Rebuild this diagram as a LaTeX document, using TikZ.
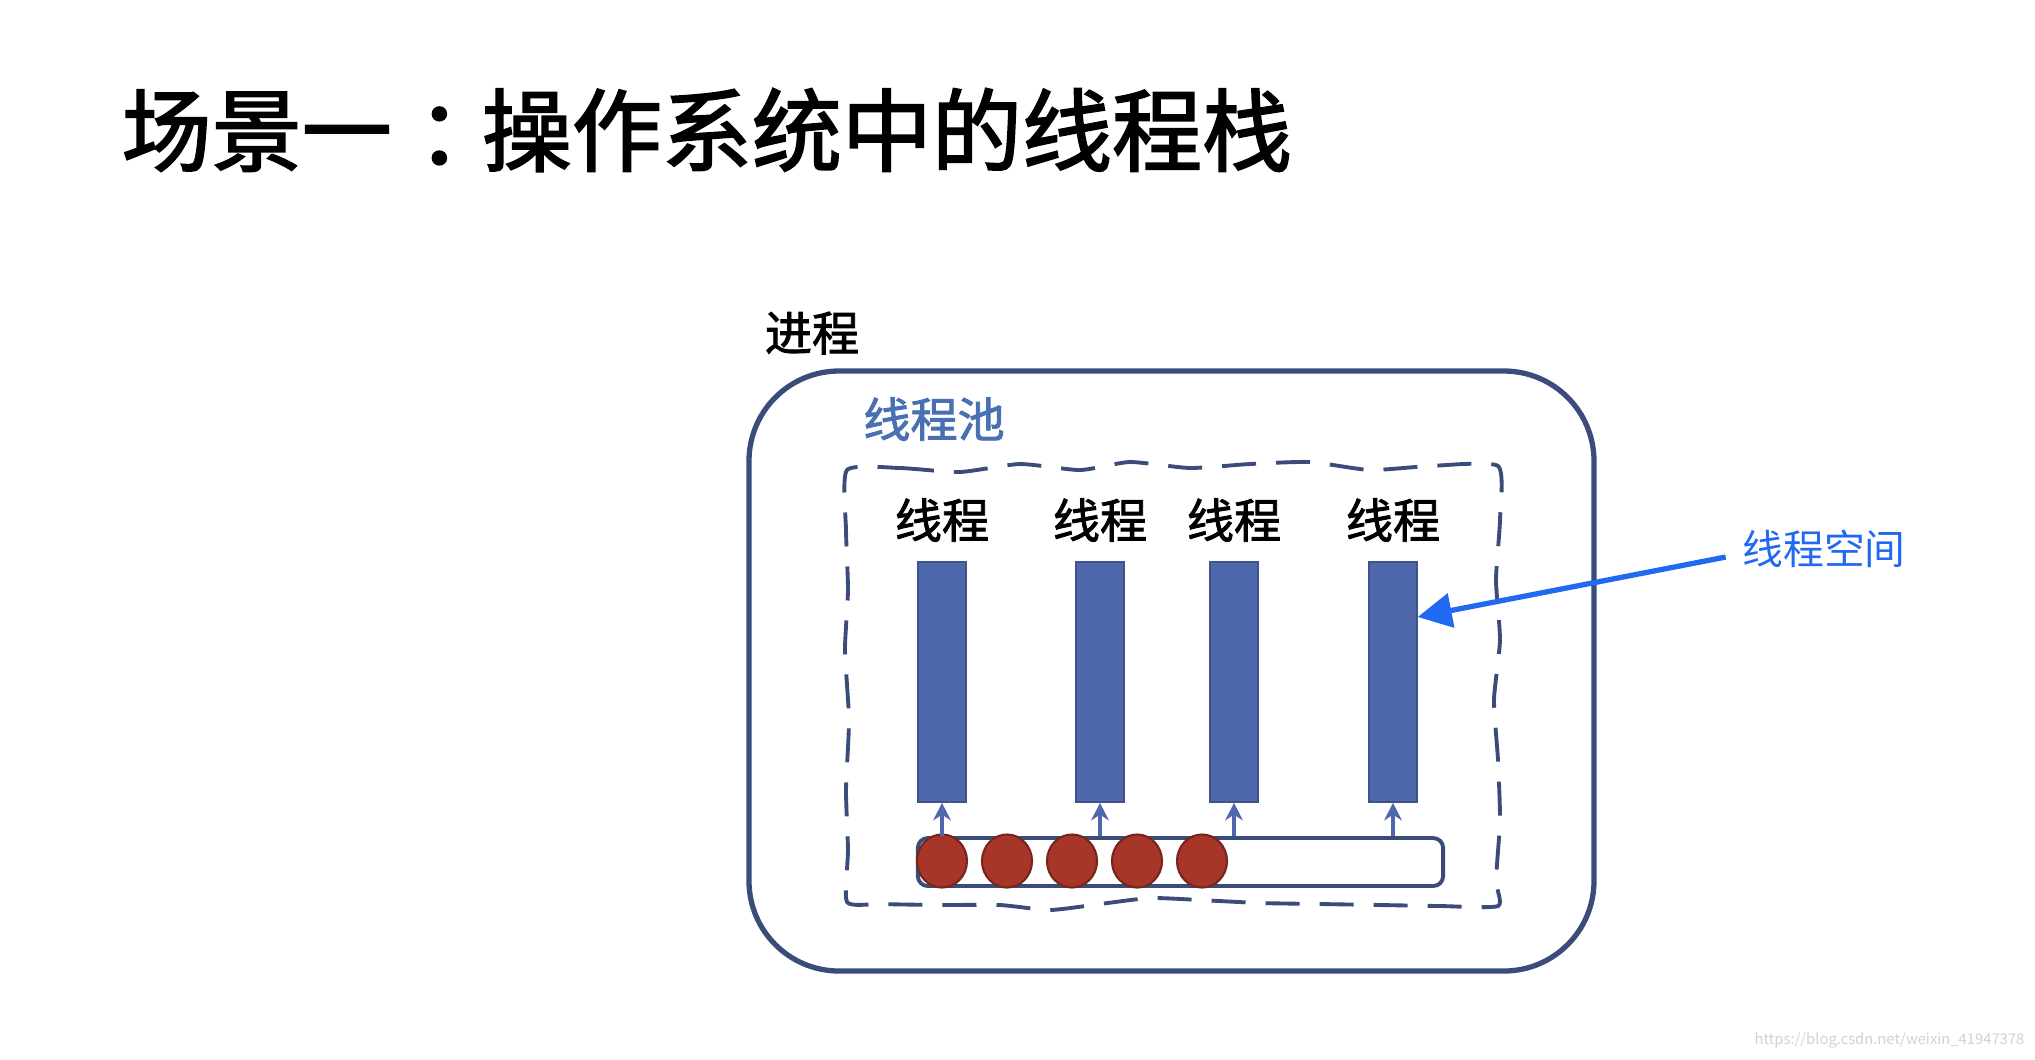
\documentclass[tikz,border=0pt]{standalone}
\usepackage{fontspec}
\setmainfont{Noto Sans CJK SC}
\newfontfamily\titlefont[FakeBold=2]{Noto Sans CJK SC}
\newfontfamily\lblfont[FakeBold=1.8]{Noto Sans CJK SC}
\usepackage{tikz}
\usetikzlibrary{arrows.meta,calc,positioning,shapes.geometric}
\definecolor{navy}{RGB}{59,76,122}
\definecolor{barblue}{RGB}{79,104,171}
\definecolor{ballred}{RGB}{168,54,40}
\definecolor{poolblue}{RGB}{72,112,178}
\definecolor{callblue}{RGB}{33,105,240}

\begin{document}
\begin{tikzpicture}[x=0.01cm,y=-0.01cm,
  lbl/.style={inner sep=0pt,font=\lblfont\fontsize{13.4pt}{14pt}\selectfont},
  bar/.style={fill=barblue,draw=barblue!80!black,line width=0.4pt,minimum width=0.48cm,minimum height=2.4cm,inner sep=0pt},
  ball/.style={ellipse,fill=ballred,draw=ballred!70!black,line width=0.6pt,minimum width=0.5cm,minimum height=0.53cm,inner sep=0pt},
  feed/.style={-{Stealth[length=5pt,width=5pt]},barblue,line width=1.3pt}]
  \useasboundingbox (0,0) rectangle (2035,1059);
  \node[inner sep=0pt,anchor=west,font=\titlefont\fontsize{25.6pt}{28pt}\selectfont] (title) at (121,130) {场景一\kern0.28em：\kern-0.28em操作系统中的线程栈};
  % process box
  \node[lbl] (proc) at (812,333) {进程};
  \draw[navy,line width=1.5pt,rounded corners=0.9cm] (749,371) rectangle (1594,971);
  \node[lbl,text=poolblue] (pool) at (934,419) {线程池};
  % hand drawn dashed frame
  \draw[navy,line width=1.1pt,dash pattern=on 0.34cm off 0.2cm,tension=0.35] plot[smooth cycle] coordinates {
    (847,470) (900,468) (960,472) (1020,464) (1080,470) (1130,462) (1190,468) (1250,464) (1310,462) (1370,470) (1430,466) (1498,466)
    (1500,520) (1496,580) (1500,640) (1494,700) (1498,760) (1500,820) (1496,880) (1498,906)
    (1440,906) (1380,905) (1320,904) (1260,903) (1200,900) (1150,898) (1100,904) (1050,910) (1000,905) (940,905) (880,904) (847,902)
    (848,850) (846,790) (849,720) (845,650) (848,590) (846,530)};
  % threads
  \foreach \i/\x in {1/942,2/1100,3/1234,4/1393} {
    \node[lbl] (name\i) at (\x,520) {线程};
    \node[bar] (bar\i) at (\x,682) {};
  }
  % task queue
  \node[draw=navy,line width=1.1pt,rounded corners=0.1cm,minimum width=5.25cm,minimum height=0.48cm,inner sep=0pt] (queue) at (1180.5,862) {};
  \foreach \i/\x in {1/942,2/1007,3/1072,4/1137,5/1202}
    \node[ball] (ball\i) at (\x,861) {};
  \foreach \i in {1,...,4}
    \draw[feed] (queue.north -| bar\i) -- (bar\i.south);
  % callout
  \node[inner sep=0pt,text=callblue,font=\fontsize{11.6pt}{13pt}\selectfont] (space) at (1824,549) {线程空间};
  \draw[-{Triangle[length=0.34cm,width=0.34cm]},callblue,line width=1.5pt] ([xshift=-0.16cm,yshift=-0.08cm]space.west) -- ([yshift=0.65cm]bar4.east);
  \node[inner sep=0pt,anchor=east,text=black!18,font=\fontsize{4.2pt}{5pt}\selectfont] (mark) at (2025,1040) {https://blog.csdn.net/weixin\_41947378};
\end{tikzpicture}
\end{document}
